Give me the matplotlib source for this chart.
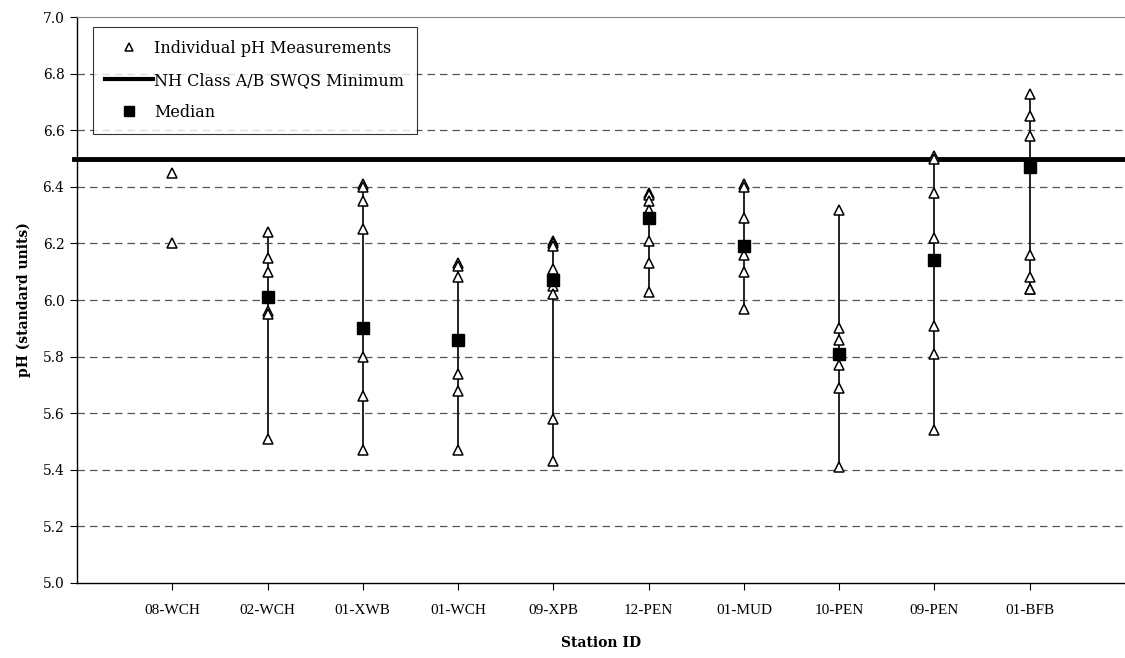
import numpy as np
import matplotlib.pyplot as plt
from matplotlib.lines import Line2D

# station data
stations = ["08-WCH", "02-WCH", "01-XWB", "01-WCH", "09-XPB",
            "12-PEN", "01-MUD", "10-PEN", "09-PEN", "01-BFB"]

ph_08wch = [6.45, 6.20]
ph_02wch = [6.24, 6.15, 6.10, 5.96, 5.95, 5.51]
ph_01xwb = [6.41, 6.40, 6.35, 6.25, 5.80, 5.66, 5.47]
ph_01wch = [6.13, 6.12, 6.08, 5.74, 5.68, 5.47]
ph_09xpb = [6.21, 6.20, 6.19, 6.11, 6.05, 6.02, 5.58, 5.43]
ph_12pen = [6.38, 6.37, 6.35, 6.32, 6.29, 6.21, 6.13, 6.03]
ph_01mud = [6.41, 6.40, 6.29, 6.16, 6.10, 5.97]
ph_10pen = [6.32, 5.90, 5.86, 5.77, 5.69, 5.41]
ph_09pen = [6.51, 6.50, 6.38, 6.22, 5.91, 5.81, 5.54]
ph_01bfb = [6.73, 6.65, 6.58, 6.16, 6.08, 6.04, 6.04]

medians = [None, 6.01, 5.90, 5.86, 6.07, 6.29, 6.19, 5.81, 6.14, 6.47]
swqs_min = 6.5

all_ph = [ph_08wch, ph_02wch, ph_01xwb, ph_01wch, ph_09xpb,
          ph_12pen, ph_01mud, ph_10pen, ph_09pen, ph_01bfb]

plt.rcParams['font.family'] = ['DejaVu Serif']

fig = plt.figure(figsize=(11.25, 6.58), dpi=100)
ax = fig.add_axes([0.0684, 0.114, 0.9316, 0.86])

x = np.arange(1, len(stations) + 1)

# grid lines
for g in np.arange(5.2, 6.81, 0.2):
    ax.axhline(g, color='#555555', lw=0.9, ls=(0, (6, 4)), zorder=0)

# min-max lines
for i, vals in enumerate(all_ph):
    if medians[i] is not None:
        ax.plot([x[i], x[i]], [min(vals), max(vals)], color='#222222', lw=1.4, zorder=2)

# standard line
ax.plot([-0.03, 11], [swqs_min, swqs_min], color='black', lw=3.5, zorder=3, clip_on=False)

for i, vals in enumerate(all_ph):
    ax.plot([x[i]] * len(vals), vals, ls='none', marker='^', ms=7.5,
            mfc='white', mec='black', mew=1.1, zorder=4)

mx = [x[i] for i in range(len(stations)) if medians[i] is not None]
my = [m for m in medians if m is not None]
ax.plot(mx, my, ls='none', marker='s', ms=9, color='black', zorder=5)

ax.set_xlim(0, 11)
ax.set_ylim(5.0, 7.0)
ax.set_yticks(np.arange(5.0, 7.01, 0.2))
ax.set_yticklabels(["%.1f" % v for v in np.arange(5.0, 7.01, 0.2)], fontsize=10)
ax.set_xticks(x)
ax.set_xticklabels(stations, fontsize=11, family='Liberation Serif')
ax.tick_params(axis='x', length=5, pad=10, width=0.8)
ax.tick_params(axis='y', length=5, width=0.8, pad=4)

ax.spines['right'].set_visible(False)
ax.spines['top'].set_color('#888888')
ax.spines['left'].set_linewidth(1.0)
ax.spines['bottom'].set_linewidth(1.0)

ax.set_ylabel("pH (standard units)", fontsize=10, fontweight='bold', labelpad=8)
ax.set_xlabel("Station ID", fontsize=10, fontweight='bold', labelpad=14)

handles = [
    Line2D([], [], ls='none', marker='^', ms=6, mfc='white', mec='black', mew=1.1),
    Line2D([], [], color='black', lw=3),
    Line2D([], [], ls='none', marker='s', ms=7, color='black'),
]
labels = ["Individual pH Measurements", "NH Class A/B SWQS Minimum", "Median"]
leg = ax.legend(handles, labels, loc='upper left', bbox_to_anchor=(0.015, 0.983),
                fontsize=11.5, frameon=True, fancybox=False, edgecolor='black',
                handlelength=3.0, handletextpad=0.05, labelspacing=0.95,
                borderpad=0.8, borderaxespad=0)
leg.get_frame().set_linewidth(0.8)
leg.set_zorder(6)

plt.savefig("out.png", dpi=100)
